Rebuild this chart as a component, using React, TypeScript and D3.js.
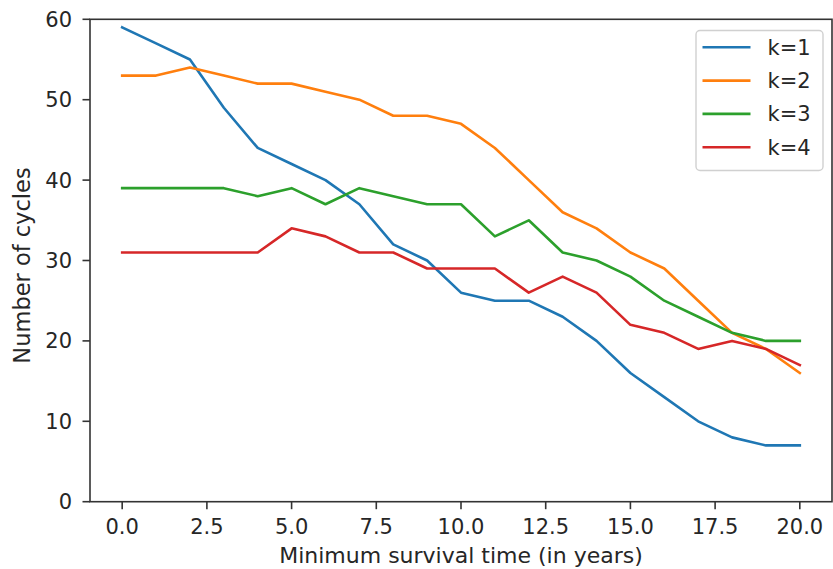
import React from "react";
import * as d3 from "d3";

const years = [0, 1, 2, 3, 4, 5, 6, 7, 8, 9, 10, 11, 12, 13, 14, 15, 16, 17, 18, 19, 20];
const k1 = [59, 57, 55, 49, 44, 42, 40, 37, 32, 30, 26, 25, 25, 23, 20, 16, 13, 10, 8, 7, 7];
const k2 = [53, 53, 54, 53, 52, 52, 51, 50, 48, 48, 47, 44, 40, 36, 34, 31, 29, 25, 21, 19, 16];
const k3 = [39, 39, 39, 39, 38, 39, 37, 39, 38, 37, 37, 33, 35, 31, 30, 28, 25, 23, 21, 20, 20];
const k4 = [31, 31, 31, 31, 31, 34, 33, 31, 31, 29, 29, 29, 26, 28, 26, 22, 21, 19, 20, 19, 17];
const seriesNames = ["k=1", "k=2", "k=3", "k=4"];
const seriesColors = ["#1f77b4", "#ff7f0e", "#2ca02c", "#d62728"];
const xTicks = [0, 2.5, 5, 7.5, 10, 12.5, 15, 17.5, 20];
const yTicks = [0, 10, 20, 30, 40, 50, 60];
const xLabel = "Minimum survival time (in years)";
const yLabel = "Number of cycles";

const W = 833;
const H = 569;
const FONT = "DejaVu Sans, sans-serif";

export default function App() {
  const x = d3.scaleLinear().domain([-0.95, 20.95]).range([90, 832]);
  const y = d3.scaleLinear().domain([0, 60]).range([501.7, 19.3]);
  const series = [k1, k2, k3, k4];
  const line = d3
    .line<number>()
    .x((_, i) => x(years[i]))
    .y((d) => y(d));
  const [x0, x1] = x.range();
  const [y0, y1] = y.range();
  const legX = 696;
  const legY = 30.5;
  const rowY = (i: number) => 47.3 + i * 33.3;

  return (
    <svg
      width={W}
      height={H}
      style={{ position: "absolute", left: 0, top: 0, background: "#fff" }}
      fontFamily={FONT}
    >
      <rect x={0} y={0} width={W} height={H} fill="#fff" />
      <defs>
        <clipPath id="plotclip">
          <rect x={x0} y={y1} width={x1 - x0} height={y0 - y1} />
        </clipPath>
      </defs>
      <g clipPath="url(#plotclip)">
        {series.map((s, i) => (
          <path
            key={i}
            d={line(s) || ""}
            fill="none"
            stroke={seriesColors[i]}
            strokeWidth={2.6}
            strokeLinejoin="round"
            strokeLinecap="square"
          />
        ))}
      </g>
      {/* spines */}
      <rect
        x={x0}
        y={y1}
        width={x1 - x0}
        height={y0 - y1}
        fill="none"
        stroke="#333"
        strokeWidth={1.6}
      />
      {/* y ticks */}
      {yTicks.map((t) => (
        <g key={"y" + t}>
          <line x1={x0 - 7.5} x2={x0} y1={y(t)} y2={y(t)} stroke="#333" strokeWidth={1.6} />
          <text
            x={x0 - 18}
            y={y(t)}
            dy="0.36em"
            textAnchor="end"
            fontSize={21}
            fill="#262626"
          >
            {t}
          </text>
        </g>
      ))}
      {/* x ticks */}
      {xTicks.map((t) => (
        <g key={"x" + t}>
          <line x1={x(t)} x2={x(t)} y1={y0} y2={y0 + 7.5} stroke="#333" strokeWidth={1.6} />
          <text x={x(t)} y={y0 + 32} textAnchor="middle" fontSize={21} fill="#262626">
            {d3.format(".1f")(t)}
          </text>
        </g>
      ))}
      <text x={(x0 + x1) / 2} y={563} textAnchor="middle" fontSize={22} fill="#262626">
        {xLabel}
      </text>
      <text
        transform={`translate(29.5, ${(y0 + y1) / 2 + 5}) rotate(-90)`}
        textAnchor="middle"
        fontSize={22.5}
        fill="#262626"
      >
        {yLabel}
      </text>
      {/* legend */}
      <rect
        x={legX}
        y={legY}
        width={127}
        height={140}
        rx={4}
        fill="#fff"
        fillOpacity={0.8}
        stroke="#d0d0d0"
        strokeWidth={1.4}
      />
      {seriesNames.map((n, i) => (
        <g key={n}>
          <line
            x1={702.5}
            x2={750.5}
            y1={rowY(i)}
            y2={rowY(i)}
            stroke={seriesColors[i]}
            strokeWidth={2.6}
          />
          <text x={767.5} y={rowY(i)} dy="0.36em" fontSize={21} fill="#262626">
            {n}
          </text>
        </g>
      ))}
    </svg>
  );
}
